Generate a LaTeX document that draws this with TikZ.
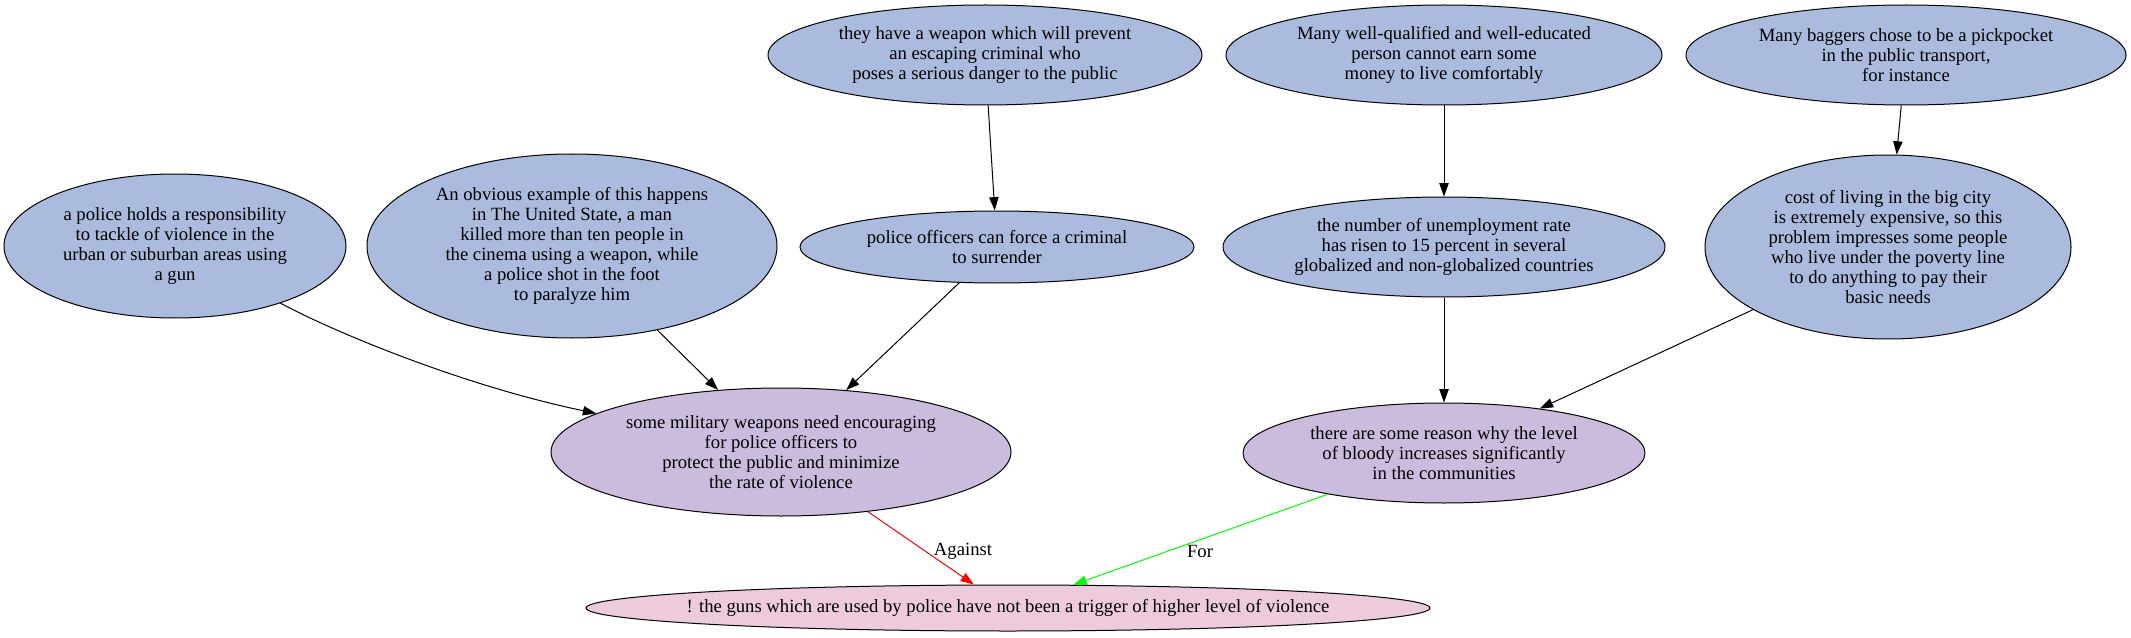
\documentclass[tikz,border=0pt]{standalone}
\usepackage{fontspec}
\setmainfont{Liberation Serif}
\usetikzlibrary{shapes.geometric,arrows.meta}
\definecolor{nblue}{RGB}{170,187,221}
\definecolor{npurple}{RGB}{203,187,221}
\definecolor{npink}{RGB}{237,203,221}
\tikzset{
  ell/.style={ellipse, draw=black, line width=0.75pt, inner sep=0pt, align=center,
    font=\fontsize{14pt}{15pt}\selectfont},
  premise/.style={ell, fill=nblue},
  claim/.style={ell, fill=npurple},
  thesis/.style={ell, fill=npink},
  conn/.style={line width=0.75pt, -{Triangle[length=10pt,width=7pt]}},
  lbl/.style={font=\fontsize{14pt}{15pt}\selectfont, inner sep=0pt}
}
\begin{document}
\begin{tikzpicture}[x=0.75pt,y=-0.75pt]
\useasboundingbox (0,0) rectangle (2131,638);
\node[premise, minimum width=325.5pt, minimum height=75pt] (n1) at (985,55)
  {they have a weapon which will prevent\\an escaping criminal who\\poses a serious danger to the public};
\node[premise, minimum width=295.5pt, minimum height=54pt] (n2) at (997,247)
  {police officers can force a criminal\\to surrender};
\node[premise, minimum width=327pt, minimum height=75pt] (n3) at (1444,55)
  {Many well-qualified and well-educated\\person cannot earn some\\money to live comfortably};
\node[premise, minimum width=330pt, minimum height=75pt] (n4) at (1906,55)
  {Many baggers chose to be a pickpocket\\in the public transport,\\for instance};
\node[premise, minimum width=331.5pt, minimum height=75pt] (n5) at (1444,247)
  {the number of unemployment rate\\has risen to 15 percent in several\\globalized and non-globalized countries};
\node[premise, minimum width=274.5pt, minimum height=138pt] (n6) at (1888,247)
  {cost of living in the big city\\is extremely expensive, so this\\problem impresses some people\\who live under the poverty line\\to do anything to pay their\\basic needs};
\node[premise, minimum width=256.5pt, minimum height=108pt] (n7) at (175,246)
  {a police holds a responsibility\\to tackle of violence in the\\urban or suburban areas using\\a gun};
\node[premise, minimum width=307.5pt, minimum height=138pt] (n8) at (572,246)
  {An obvious example of this happens\\in The United State, a man\\killed more than ten people in\\the cinema using a weapon, while\\a police shot in the foot\\to paralyze him};
\node[claim, minimum width=345pt, minimum height=96pt] (n9) at (781,452)
  {some military weapons need encouraging\\for police officers to\\protect the public and minimize\\the rate of violence};
\node[claim, minimum width=301.5pt, minimum height=75pt] (n10) at (1444,453)
  {there are some reason why the level\\of bloody increases significantly\\in the communities};
\node[thesis, minimum width=633pt, minimum height=34.5pt] (n11) at (1008,608)
  {\makebox[0pt]{! the guns which are used by police have not been a trigger of higher level of violence}};

\draw[conn] (n1) -- (n2);
\draw[conn] (n3) -- (n5);
\draw[conn] (n4) -- (n6);
\draw[conn] (n5) -- (n10);
\draw[conn] (n6) -- (n10);
\draw[conn] (n7) .. controls (330,330) and (460,385) .. (n9);
\draw[conn] (n8) -- (n9);
\draw[conn] (n2) -- (n9);
\draw[conn, draw=red, -{Triangle[length=10pt,width=7pt,fill=red]}] (n9) -- (n11);
\draw[conn, draw=green, -{Triangle[length=10pt,width=7pt,fill=green]}] (n10) -- (n11);
\node[lbl] (la) at (963,551) {Against};
\node[lbl] (lf) at (1200,551) {For};
\end{tikzpicture}
\end{document}
